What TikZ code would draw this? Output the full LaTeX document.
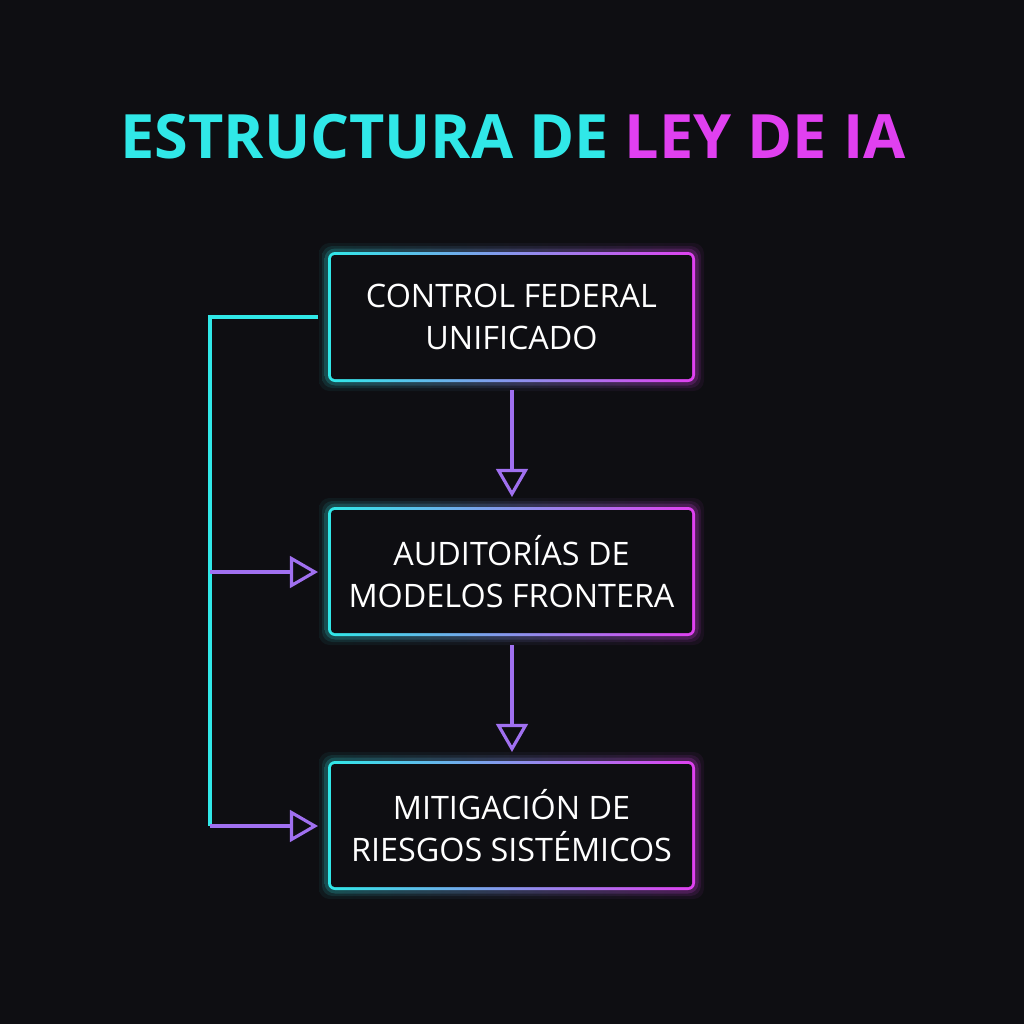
\documentclass[tikz,border=0pt]{standalone}
\usepackage{fontspec}
\setmainfont{Open Sans}
\usetikzlibrary{arrows.meta}
\definecolor{bg}{HTML}{0E0E12}
\definecolor{cy}{HTML}{30E8E8}
\definecolor{mg}{HTML}{E040F0}
\definecolor{pu}{HTML}{A070F0}
\tikzset{
  boxtext/.style={text=white,font=\fontsize{9.2pt}{12pt}\selectfont,align=center},
  conn/.style={line width=0.9pt,-{Triangle[open,length=8pt,width=9pt,line width=0.9pt]}},
}
\newcommand{\glowbox}[5]{%
  \foreach \g/\o in {0.09/0.06,0.06/0.1,0.035/0.18}{
    \shade[left color=cy,right color=mg,opacity=\o,rounded corners=3pt] (#1-\g,#2+\g) rectangle (#3+\g,#4-\g);}
  \shade[left color=cy,right color=mg,rounded corners=2pt] (#1,#2) rectangle (#3,#4);
  \fill[bg,rounded corners=1pt] (#1+0.03,#2-0.03) rectangle (#3-0.03,#4+0.03);
  \node[boxtext] (#5) at ({(#1+#3)/2},{(#2+#4)/2}) {};
}
\begin{document}
\begin{tikzpicture}
\fill[bg] (0,0) rectangle (10.24,-10.24);
\useasboundingbox (0,0) rectangle (10.24,-10.24);
\node[font=\fontsize{17.4pt}{20pt}\selectfont\bfseries] (title) at (5.13,-1.37) {\textcolor{cy}{ESTRUCTURA DE} \textcolor{mg}{LEY DE IA}};
\glowbox{3.28}{-2.52}{6.95}{-3.82}{b1}
\glowbox{3.28}{-5.07}{6.95}{-6.36}{b2}
\glowbox{3.28}{-7.61}{6.95}{-8.90}{b3}
\node[boxtext] at (b1) {CONTROL FEDERAL\\UNIFICADO};
\node[boxtext] at (b2) {AUDITORÍAS DE\\MODELOS FRONTERA};
\node[boxtext] at (b3) {MITIGACIÓN DE\\RIESGOS SISTÉMICOS};
\coordinate (s1) at (5.12,-3.90);
\coordinate (e1) at (5.12,-4.97);
\coordinate (s2) at (5.12,-6.45);
\coordinate (e2) at (5.12,-7.52);
\draw[conn,pu] (s1) -- (e1);
\draw[conn,pu] (s2) -- (e2);
\coordinate (l0) at (3.18,-3.17);
\coordinate (c0) at (2.10,-3.17);
\coordinate (c1) at (2.10,-5.72);
\coordinate (c2) at (2.10,-8.26);
\coordinate (a1) at (3.18,-5.72);
\coordinate (a2) at (3.18,-8.26);
\draw[line width=0.9pt,cy] (l0) -- (c0) -- (c2);
\draw[conn,pu] (c1) -- (a1);
\draw[conn,pu] (c2) -- (a2);
\end{tikzpicture}
\end{document}
